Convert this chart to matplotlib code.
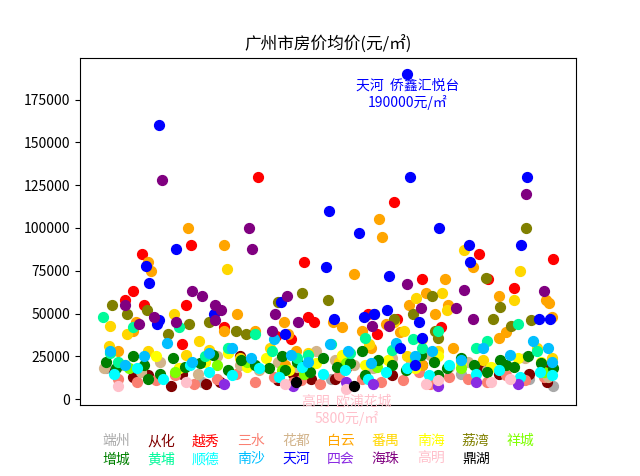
import matplotlib.pyplot as plt

plt.rcParams['font.family'] = ['Noto Sans CJK SC', 'DejaVu Sans']
plt.rcParams['axes.unicode_minus'] = False

# district -> (colour, listing index, price yuan/m2)
districts = ["端州", "从化", "越秀", "三水", "花都", "白云", "番禺", "南海", "荔湾", "祥城",
             "增城", "黄埔", "顺德", "南沙", "天河", "四会", "海珠", "高明", "鼎湖"]
colors = ["darkgray", "maroon", "red", "salmon", "tan", "orange", "gold", "yellow", "olive", "chartreuse",
          "green", "mediumspringgreen", "cyan", "deepskyblue", "blue", "blueviolet", "purple", "pink", "black"]

idx = {
    "端州": [5, 130, 300, 470, 592, 560],
    "从化": [15, 40, 60, 90, 104, 136, 154, 180, 250, 274, 305, 320, 420, 500, 520, 560, 578, 584, 230, 380],
    "越秀": [204, 382, 52, 116, 265, 494, 592, 420, 506, 540, 40, 30, 110, 54, 270, 348, 386, 160, 278, 228, 104, 360, 248, 445],
    "三水": [20, 45, 70, 95, 120, 150, 175, 200, 225, 260, 285, 310, 340, 365, 395, 430, 455, 480, 505, 530, 555, 580, 250, 415],
    "花都": [2, 25, 50, 75, 100, 125, 150, 180, 205, 230, 255, 280, 305, 330, 355, 380, 405, 430, 455, 480, 505, 530, 555, 585],
    "白云": [112, 160, 363, 367, 64, 60, 330, 176, 302, 402, 425, 436, 486, 520, 582, 586, 44, 40, 160, 238, 244, 372,
            340, 390, 454, 520, 530, 590, 450, 20, 254, 314, 352, 420, 460, 240, 200],
    "番禺": [164, 412, 474, 548, 10, 32, 94, 126, 446, 382, 540, 452, 396, 420, 8, 60, 110, 140, 180, 220, 270, 310,
            350, 400, 440, 500, 570, 590],
    "南海": [30, 70, 100, 135, 165, 190, 215, 245, 280, 315, 345, 375, 410, 440, 470, 510, 545, 575],
    "荔湾": [556, 504, 408, 12, 32, 58, 230, 175, 262, 296, 356, 432, 522, 536, 436, 382, 114, 140, 86, 512, 562, 188, 440],
    "祥城": [35, 95, 150, 190, 235, 265, 320, 360, 410, 470, 530, 580],
    "增城": [5, 18, 40, 55, 75, 92, 108, 128, 145, 165, 182, 200, 218, 235, 255, 272, 290, 308, 325, 345, 362, 380,
            398, 418, 435, 452, 470, 488, 505, 522, 540, 558, 575, 592, 60, 240, 340, 440, 530],
    "黄埔": [0, 10, 40, 100, 135, 165, 200, 222, 255, 300, 325, 345, 380, 408, 440, 490, 505, 545, 570, 20, 270, 420],
    "顺德": [15, 45, 80, 115, 140, 170, 205, 232, 262, 290, 318, 348, 372, 400, 428, 455, 490, 520, 548, 574, 590],
    "南沙": [10, 30, 55, 85, 118, 140, 170, 195, 225, 248, 270, 298, 322, 352, 385, 410, 432, 470, 500, 535, 565, 590, 585],
    "天河": [74, 400, 404, 442, 297, 337, 57, 61, 96, 293, 376, 481, 483, 557, 549, 234, 146, 374, 415, 573, 587,
            343, 357, 304, 240, 391, 410, 74, 72, 420],
    "四会": [160, 250, 320, 355, 440, 490, 545],
    "海珠": [78, 556, 118, 148, 196, 30, 48, 68, 130, 156, 192, 96, 148, 226, 256, 400, 418, 474, 580, 487, 222, 464, 354, 242, 376],
    "高明": [320, 20, 110, 240, 425, 440, 510, 535],
    "鼎湖": [254, 330],
}
price = {
    "端州": [18000, 10000, 12000, 15000, 8000, 12000],
    "从化": [16000, 13000, 14000, 8000, 15000, 9000, 10000, 25000, 15000, 12000, 12000, 18000, 20000, 18000, 15000,
            15000, 20000, 10000, 11000, 14000],
    "越秀": [130000, 115000, 85000, 90000, 80000, 85000, 82000, 70000, 70000, 65000, 63000, 58000, 55000, 55000,
            48000, 50000, 47000, 42000, 45000, 37000, 32000, 38000, 35000, 42000],
    "三水": [12000, 10000, 11000, 14000, 9000, 12000, 15000, 10000, 13000, 11000, 9000, 14000, 12000, 10000, 11000,
            9000, 13000, 12000, 10000, 14000, 11000, 13000, 10000, 16000],
    "花都": [18000, 20000, 16000, 22000, 18000, 15000, 25000, 20000, 17000, 22000, 19000, 28000, 23000, 20000, 18000,
            24000, 21000, 26000, 19000, 22000, 17000, 20000, 24000, 13000],
    "白云": [100000, 90000, 105000, 95000, 75000, 80000, 73000, 50000, 45000, 55000, 62000, 50000, 77000, 60000,
            58000, 56000, 45000, 40000, 40000, 45000, 38000, 44000, 40000, 39000, 55000, 36000, 39000, 48000, 70000,
            28000, 28000, 42000, 30000, 20000, 30000, 20000, 40000],
    "番禺": [76000, 59000, 87000, 75000, 43000, 38000, 50000, 34000, 62000, 45000, 58000, 52000, 40000, 35000, 31000,
            28000, 26000, 29000, 24000, 30000, 27000, 22000, 32000, 25000, 28000, 23000, 30000, 24000],
    "南海": [20000, 25000, 18000, 22000, 27000, 19000, 24000, 17000, 21000, 26000, 20000, 23000, 18000, 25000,
            21000, 19000, 24000, 22000],
    "荔湾": [100000, 71000, 50000, 55000, 50000, 52000, 57000, 40000, 62000, 58000, 50000, 60000, 54000, 43000,
            40000, 47000, 44000, 45000, 38000, 47000, 46000, 38000, 36000],
    "祥城": [18000, 16000, 20000, 22000, 17000, 15000, 21000, 19000, 23000, 18000, 20000, 16000],
    "增城": [22000, 18000, 25000, 20000, 15000, 24000, 19000, 21000, 26000, 17000, 23000, 20000, 18000, 25000,
            22000, 16000, 24000, 19000, 21000, 14000, 23000, 20000, 17000, 26000, 22000, 18000, 24000, 20000, 16000,
            23000, 19000, 25000, 21000, 18000, 12000, 17000, 28000, 14000, 20000],
    "黄埔": [48000, 27000, 42000, 42000, 25000, 30000, 38000, 28000, 24000, 32000, 27000, 36000, 29000, 35000,
            40000, 30000, 34000, 44000, 28000, 22000, 26000, 30000],
    "顺德": [15000, 18000, 12000, 20000, 16000, 14000, 18000, 13000, 19000, 15000, 17000, 12000, 16000, 18000,
            14000, 20000, 15000, 17000, 13000, 16000, 14000],
    "南沙": [28000, 20000, 25000, 33000, 22000, 27000, 30000, 24000, 35000, 26000, 22000, 32000, 28000, 21000,
            33000, 25000, 28000, 23000, 30000, 26000, 34000, 22000, 30000],
    "天河": [160000, 190000, 130000, 100000, 110000, 97000, 78000, 68000, 88000, 77000, 72000, 90000, 80000,
            130000, 90000, 57000, 50000, 52000, 45000, 47000, 47000, 48000, 50000, 47000, 38000, 30000, 20000,
            46000, 44000, 36000],
    "四会": [9000, 8000, 10000, 9000, 8000, 10000, 9000],
    "海珠": [128000, 120000, 63000, 55000, 88000, 55000, 44000, 48000, 60000, 52000, 100000, 45000, 46000, 50000,
            45000, 67000, 53000, 64000, 63000, 47000, 40000, 53000, 43000, 60000, 43000],
    "高明": [5800, 8000, 10000, 9000, 9000, 11000, 10000, 12000],
    "鼎湖": [10000, 7600],
}

fig = plt.figure(figsize=(6.4, 4.76), dpi=100)
ax = fig.add_axes([0.125, 0.149, 0.775, 0.729])
for name, c in zip(districts, colors):
    ax.scatter(idx[name], price[name], s=50, color=c)

ax.set_xticks([])
ax.set_title("广州市房价均价(元/㎡)", fontsize=12)

ax.text(400, 190000 - 3000, "天河  侨鑫汇悦台\n190000元/㎡", color="blue", ha="center", va="top", fontsize=10)
ax.text(320, 5800 - 3000, "高明  欧浦花城\n5800元/㎡", color="pink", ha="center", va="top", fontsize=10)

for i, (name, c) in enumerate(zip(districts, colors)):
    row, col = divmod(i, 10)
    fig.text(0.181 + col * 0.0703, 0.073 - row * 0.038, name, color=c, ha="center", va="center", fontsize=10)

fig.savefig("out.png", dpi=100)
